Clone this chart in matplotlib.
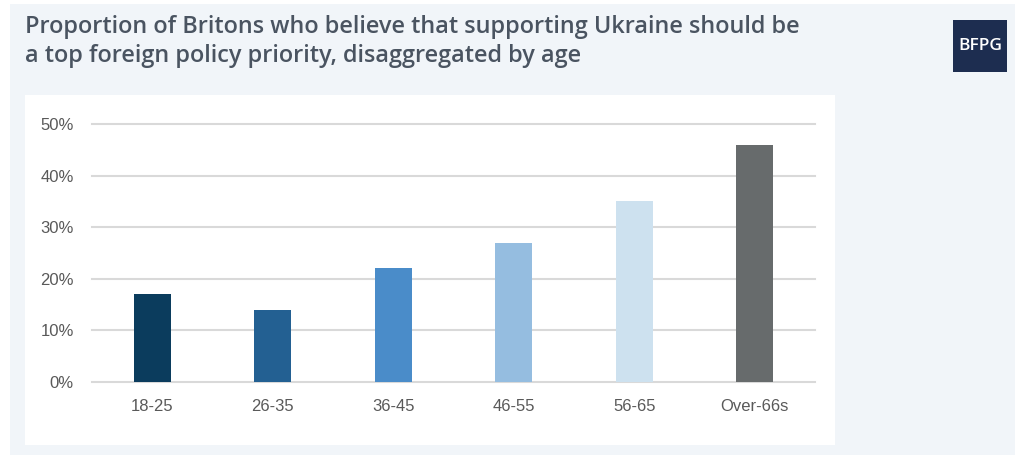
import matplotlib.pyplot as plt
from matplotlib.patches import Rectangle
from matplotlib.ticker import PercentFormatter

# survey shares by age band
ages = ['18-25', '26-35', '36-45', '46-55', '56-65', 'Over-66s']
shares = [0.17, 0.14, 0.22, 0.27, 0.35, 0.46]
colours = ['#0b3c5d', '#236092', '#4a8cc9', '#95bde0', '#cde1ef', '#676b6c']
yticks = [0, 0.1, 0.2, 0.3, 0.4, 0.5]

W, H = 1024, 459
fig = plt.figure(figsize=(W/100, H/100), dpi=100)
fig.patch.set_facecolor('white')

# page panel and white chart card
fig.patches.append(Rectangle((10/W, 4/H), 1005/W, 451/H, transform=fig.transFigure,
                             facecolor='#f1f5f9', edgecolor='none', zorder=-2))
fig.patches.append(Rectangle((25/W, (H-445)/H), 810/W, 350/H, transform=fig.transFigure,
                             facecolor='white', edgecolor='none', zorder=-1))

# title
fig.text(25/W, 1-15/H, 'Proportion of Britons who believe that supporting Ukraine should be\n'
         'a top foreign policy priority, disaggregated by age',
         family='Open Sans', fontsize=16.9, weight='semibold', color='#4a5461',
         va='top', ha='left', linespacing=1.25)

# logo badge
fig.patches.append(Rectangle((953/W, (H-72)/H), 54/W, 52/H, transform=fig.transFigure,
                             facecolor='#1d2d50', edgecolor='none', zorder=1))
fig.text(980/W, 1-46/H, 'BFPG', family='Open Sans', fontsize=12.5, weight='semibold',
         color='white', ha='center', va='center', zorder=2)

ax = fig.add_axes([92/W, (H-382)/H, 723/W, 258/H])
ax.set_facecolor('none')
ax.bar(range(len(ages)), shares, width=0.31, color=colours, zorder=3)
ax.set_xlim(-0.5, len(ages) - 0.5)
ax.set_ylim(0, 0.5)
ax.set_yticks(yticks)
ax.yaxis.set_major_formatter(PercentFormatter(1.0, decimals=0))
ax.set_xticks(range(len(ages)))
ax.set_xticklabels(ages)
ax.grid(axis='y', color='#d9d9d9', linewidth=1.5, clip_on=False, zorder=1)
ax.set_axisbelow(True)
for s in ax.spines.values():
    s.set_visible(False)
ax.tick_params(axis='y', length=0, pad=13, labelsize=12, labelcolor='#595959')
ax.tick_params(axis='x', length=0, pad=12.5, labelsize=12, labelcolor='#595959')
for lab in ax.get_xticklabels() + ax.get_yticklabels():
    lab.set_family('Liberation Sans')

fig.savefig('out.png', dpi=100)
